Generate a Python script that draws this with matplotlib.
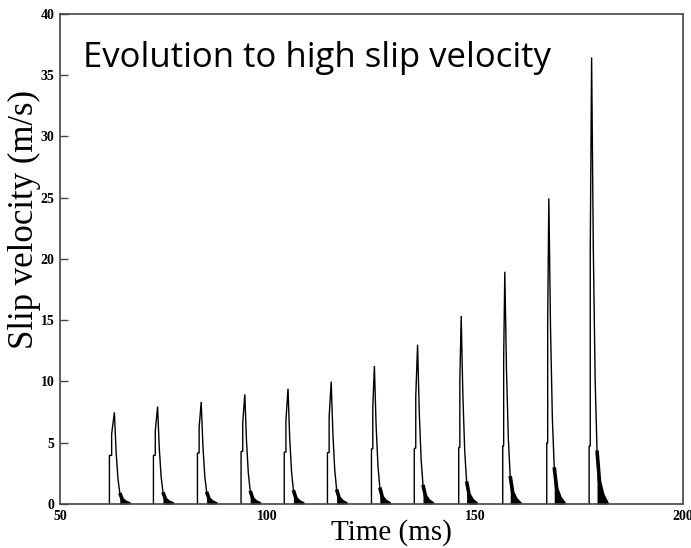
import numpy as np
import matplotlib
matplotlib.use("Agg")
import matplotlib.pyplot as plt

# ---- data ----
onset_ms = [61.9, 72.5, 83.1, 93.6, 104.0, 114.4, 125.0, 135.3, 146.0, 156.6, 167.2, 177.4]
peak_ms = [63.1, 73.5, 84.0, 94.5, 104.9, 115.3, 125.7, 136.1, 146.6, 157.1, 167.7, 178.0]
peak_vel = [7.48, 7.95, 8.33, 8.95, 9.41, 9.99, 11.27, 13.0, 15.35, 18.96, 24.95, 36.46]
onset_frac = [0.53, 0.5, 0.5, 0.48, 0.45, 0.42, 0.4, 0.35, 0.3, 0.25, 0.2, 0.13]

# shared decay shape after the peak (ms after peak, fraction of peak)
decay_dt = [0.0, 0.4, 0.85, 1.3, 1.9, 2.7, 3.8]
decay_frac = [1.0, 0.58, 0.28, 0.12, 0.05, 0.02, 0.0]

xticks = [50, 100, 150, 200]
yticks = [0, 5, 10, 15, 20, 25, 30, 35, 40]

fig = plt.figure(figsize=(6.91, 5.48), dpi=100)
ax = fig.add_axes([0.0868, 0.0803, 0.9016, 0.8942])

for t0, tp, vp, f0 in zip(onset_ms, peak_ms, peak_vel, onset_frac):
    rise_t = [t0, t0, t0 + 0.45 * (tp - t0), t0 + 0.45 * (tp - t0), tp]
    rise_v = [0.0, f0 * vp, f0 * vp, (0.5 + f0 / 2) * vp, vp]
    dec_t = [tp + d for d in decay_dt]
    dec_v = [vp * f for f in decay_frac]
    t = rise_t + dec_t
    v = rise_v + dec_v
    ax.plot(t, v, color="black", lw=1.0, solid_joinstyle="miter")
    # ragged dark tail near the bottom
    ax.fill_between(dec_t[3:], [0] * len(dec_t[3:]), dec_v[3:], color="black", lw=0)
    ax.plot(dec_t[3:], dec_v[3:], color="black", lw=2.6, solid_capstyle="butt")

ax.set_xlim(50, 200)
ax.set_ylim(0, 40)
ax.set_xticks(xticks)
ax.set_yticks(yticks)
ax.tick_params(axis="y", direction="in", length=6, width=1, colors="#444444",
               labelcolor="black", pad=4)
ax.tick_params(axis="x", direction="in", length=0, labelcolor="black", pad=4)
for lab in ax.get_xticklabels() + ax.get_yticklabels():
    lab.set_fontfamily("Liberation Serif")
    lab.set_fontweight("bold")
    lab.set_fontsize(10)
for s in ax.spines.values():
    s.set_color("#444444")
    s.set_linewidth(1.2)

ax.set_xlabel("Time (ms)", fontfamily="Liberation Serif", fontsize=21)
ax.xaxis.set_label_coords(0.532, -0.031)
ax.set_ylabel("Slip velocity (m/s)", fontfamily="Liberation Serif", fontsize=25)
ax.yaxis.set_label_coords(-0.030, 0.58)

ax.text(0.037, 0.892, "Evolution to high slip velocity", transform=ax.transAxes,
        fontfamily="Open Sans", fontsize=25, va="baseline", ha="left")

fig.savefig("out.png", dpi=100)
